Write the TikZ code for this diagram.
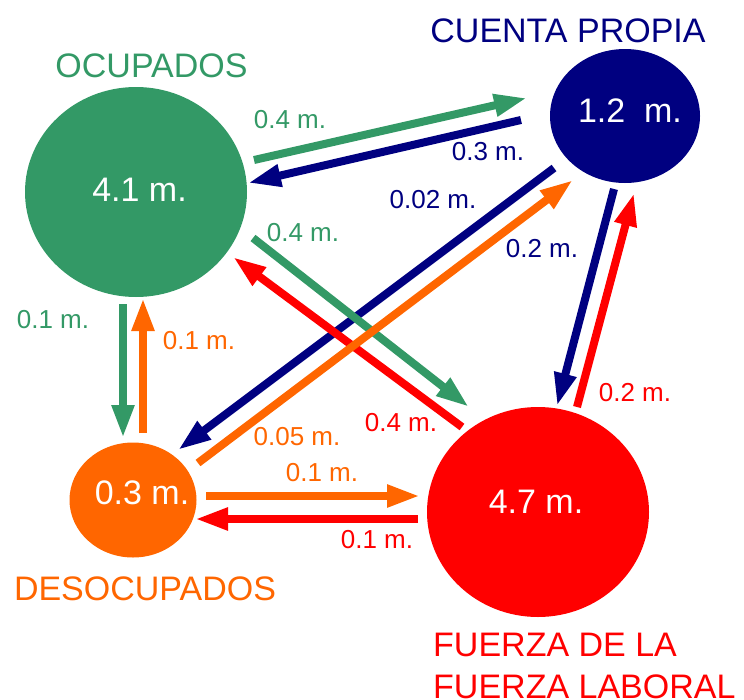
\documentclass[tikz,border=0pt]{standalone}
\usepackage{fontspec}
\setmainfont{Liberation Sans}
\usetikzlibrary{arrows.meta,shapes.geometric}
\definecolor{cgreen}{RGB}{51,153,102}
\definecolor{cnavy}{RGB}{0,0,128}
\definecolor{corange}{RGB}{255,102,0}
\definecolor{cred}{RGB}{255,0,0}
\begin{document}
\begin{tikzpicture}[x=1pt,y=-1pt,
  blob/.style={ellipse,inner sep=0pt,draw=none},
  big/.style={font=\fontsize{34}{40}\selectfont,inner sep=0pt},
  inside/.style={big,text=white},
  flowlab/.style={font=\fontsize{26}{30}\selectfont,inner sep=0pt},
  flow/.style={line width=8pt,-{Triangle[length=33pt,width=21pt]}},
]
\useasboundingbox (0,0) rectangle (744,699);
% circles
\node[blob,fill=cgreen,minimum width=222pt,minimum height=210pt] (ocup) at (136,192) {};
\node[blob,fill=cnavy,minimum width=150pt,minimum height=134pt] (cuenta) at (625,116) {};
\node[blob,fill=corange,minimum width=127pt,minimum height=115pt] (desoc) at (133,500) {};
\node[blob,fill=cred,minimum width=222pt,minimum height=210pt] (fuera) at (538,512) {};
% values
\node[inside] (vocup) at (139.5,190) {4.1 m.};
\node[inside] (vcuenta) at (630,111) {1.2\ \ m.};
\node[inside] (vdesoc) at (142,493) {0.3 m.};
\node[inside] (vfuera) at (536,502) {4.7 m.};
% titles
\node[big,text=cgreen] (tocup) at (151.5,65.5) {OCUPADOS};
\node[big,text=cnavy] (tcuenta) at (568,31) {CUENTA PROPIA};
\node[big,text=corange] (tdesoc) at (145,589) {DESOCUPADOS};
\node[big,text=cred,anchor=west] (tfuera1) at (433,645) {FUERZA DE LA};
\node[big,text=cred,anchor=west] (tfuera2) at (433,687) {FUERZA LABORAL};
% arrow end points
\coordinate (oc1) at (254,160);  \coordinate (cu1) at (527,98);
\coordinate (cu2) at (521,120);  \coordinate (oc2) at (248,183);
\coordinate (oc3) at (253,238);  \coordinate (fu3) at (469,407);
\coordinate (fu4) at (462,427);  \coordinate (oc4) at (233,257);
\coordinate (cu5) at (554,168);  \coordinate (de5) at (178,450);
\coordinate (de6) at (198,463);  \coordinate (cu6) at (573,180);
\coordinate (cu7) at (614,189);  \coordinate (fu7) at (557,406);
\coordinate (fu8) at (577,407);  \coordinate (cu8) at (634,193);
\coordinate (oc9) at (123,304);  \coordinate (de9) at (123,438);
\coordinate (de10) at (143,433); \coordinate (oc10) at (143,298);
\coordinate (de11) at (206,496); \coordinate (fu11) at (420,496);
\coordinate (fu12) at (418,519); \coordinate (de12) at (195,519);
% arrows (stacking order as in reference)
\draw[flow,cnavy] (cu5) -- (de5);
\draw[flow,cnavy] (cu2) -- (oc2);
\draw[flow,cnavy] (cu7) -- (fu7);
\draw[flow,cred] (fu4) -- (oc4);
\draw[flow,cred] (fu8) -- (cu8);
\draw[flow,cred] (fu12) -- (de12);
\draw[flow,cgreen] (oc3) -- (fu3);
\draw[flow,cgreen] (oc1) -- (cu1);
\draw[flow,cgreen] (oc9) -- (de9);
\draw[flow,corange] (de6) -- (cu6);
\draw[flow,corange] (de10) -- (oc10);
\draw[flow,corange] (de11) -- (fu11);
% flow labels
\node[flowlab,text=cgreen] (l1) at (290,120) {0.4 m.};
\node[flowlab,text=cnavy] (l2) at (488,152) {0.3 m.};
\node[flowlab,text=cgreen] (l3) at (303,233) {0.4 m.};
\node[flowlab,text=cred] (l4) at (401,423) {0.4 m.};
\node[flowlab,text=cnavy] (l5) at (433,200) {0.02 m.};
\node[flowlab,text=corange] (l6) at (297,437) {0.05 m.};
\node[flowlab,text=cnavy] (l7) at (542,249) {0.2 m.};
\node[flowlab,text=cred] (l8) at (635,393) {0.2 m.};
\node[flowlab,text=cgreen] (l9) at (53,320) {0.1 m.};
\node[flowlab,text=corange] (l10) at (199,341) {0.1 m.};
\node[flowlab,text=corange] (l11) at (322,473) {0.1 m.};
\node[flowlab,text=cred] (l12) at (377,540) {0.1 m.};
\end{tikzpicture}
\end{document}
